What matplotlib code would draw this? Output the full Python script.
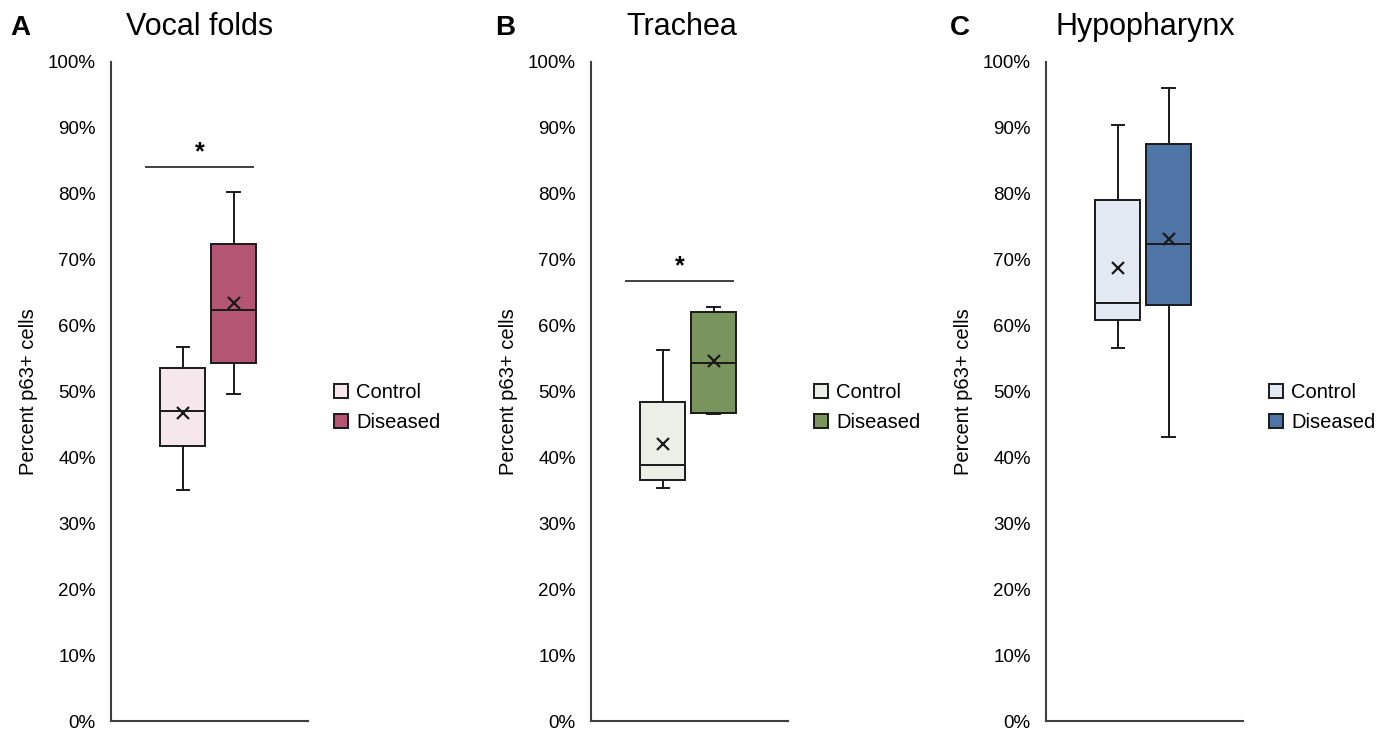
import matplotlib.pyplot as plt

plt.rcParams['font.family'] = ['Liberation Sans', 'DejaVu Sans']

# ---- data (percent p63+ cells) ----
groups = ['Control', 'Diseased']
panels = ['A', 'B', 'C']
titles = ['Vocal folds', 'Trachea', 'Hypopharynx']

# per panel: [control, diseased]
whis_lo = [[35.0, 49.6], [35.3, 46.6], [56.6, 43.1]]
q1 = [[41.8, 54.3], [36.6, 46.8], [60.8, 63.2]]
median = [[47.0, 62.3], [38.9, 54.4], [63.5, 72.4]]
q3 = [[53.6, 72.4], [48.4, 62.0], [79.0, 87.5]]
whis_hi = [[56.8, 80.2], [56.3, 62.8], [90.5, 96.0]]
mean = [[46.8, 63.4], [42.1, 54.6], [68.8, 73.1]]

# significance bar level per panel (None = no bar)
signif = [84.0, 66.8, None]

colors = [['#F5E7EB', '#B45573'],
          ['#ECEFE8', '#7A945E'],
          ['#E4EAF3', '#4F75A6']]

# ---- layout (pixels) ----
W, H = 1387, 733
fig = plt.figure(figsize=(W / 100, H / 100), dpi=100)
lefts = [111, 591, 1046]
title_x = [200, 682, 1145]
letter_x = [10, 495, 950]
ax_w = 197
bottom, top = 721, 62
positions = [0.365, 0.622]
box_w = 0.228

for i in range(3):
    ax = fig.add_axes([lefts[i] / W, 1 - bottom / H, ax_w / W, (bottom - top) / H])
    stats = []
    for j in range(2):
        stats.append(dict(med=median[i][j], q1=q1[i][j], q3=q3[i][j],
                          whislo=whis_lo[i][j], whishi=whis_hi[i][j],
                          mean=mean[i][j], fliers=[], label=groups[j]))
    bp = ax.bxp(stats, positions=positions, widths=box_w, capwidths=0.062,
                showmeans=True, patch_artist=True, manage_ticks=False,
                boxprops=dict(linewidth=1.4, edgecolor='#1a1a1a'),
                medianprops=dict(color='#1a1a1a', linewidth=1.4),
                whiskerprops=dict(color='#1a1a1a', linewidth=1.4),
                capprops=dict(color='#1a1a1a', linewidth=1.4),
                meanprops=dict(marker='x', markeredgecolor='#1a1a1a',
                               markersize=8, markeredgewidth=1.6))
    for j, patch in enumerate(bp['boxes']):
        patch.set_facecolor(colors[i][j])

    if signif[i] is not None:
        ax.plot([0.178, 0.72], [signif[i]] * 2, color='#404040', lw=1.4)
        ax.text(0.45, signif[i] + 0.4, '*', ha='center', va='bottom',
                fontsize=18, fontweight='bold')

    ax.set_xlim(0, 1)
    ax.set_ylim(0, 100)
    ax.set_yticks(range(0, 101, 10))
    ax.set_yticklabels([f'{v}%' for v in range(0, 101, 10)], fontsize=13.5)
    ax.set_xticks([])
    ax.tick_params(axis='y', length=0, pad=11)
    for s in ['top', 'right']:
        ax.spines[s].set_visible(False)
    for s in ['left', 'bottom']:
        ax.spines[s].set_color('#404040')
        ax.spines[s].set_linewidth(1.5)
    ax.set_ylabel('Percent p63+ cells', fontsize=14.5, labelpad=7)

    fig.text(title_x[i] / W, 1 - 35 / H, titles[i], fontsize=22,
             ha='center', va='baseline')
    fig.text(letter_x[i] / W, 1 - 35 / H, panels[i], fontsize=20,
             fontweight='bold', ha='left', va='baseline')

    ax.legend(handles=bp['boxes'], labels=groups, loc='center left',
              bbox_to_anchor=(1.04, 0.476), frameon=False, fontsize=14.5,
              handlelength=0.7, handleheight=0.7, handletextpad=0.4,
              labelspacing=0.55)

fig.savefig('out.png', dpi=100)
